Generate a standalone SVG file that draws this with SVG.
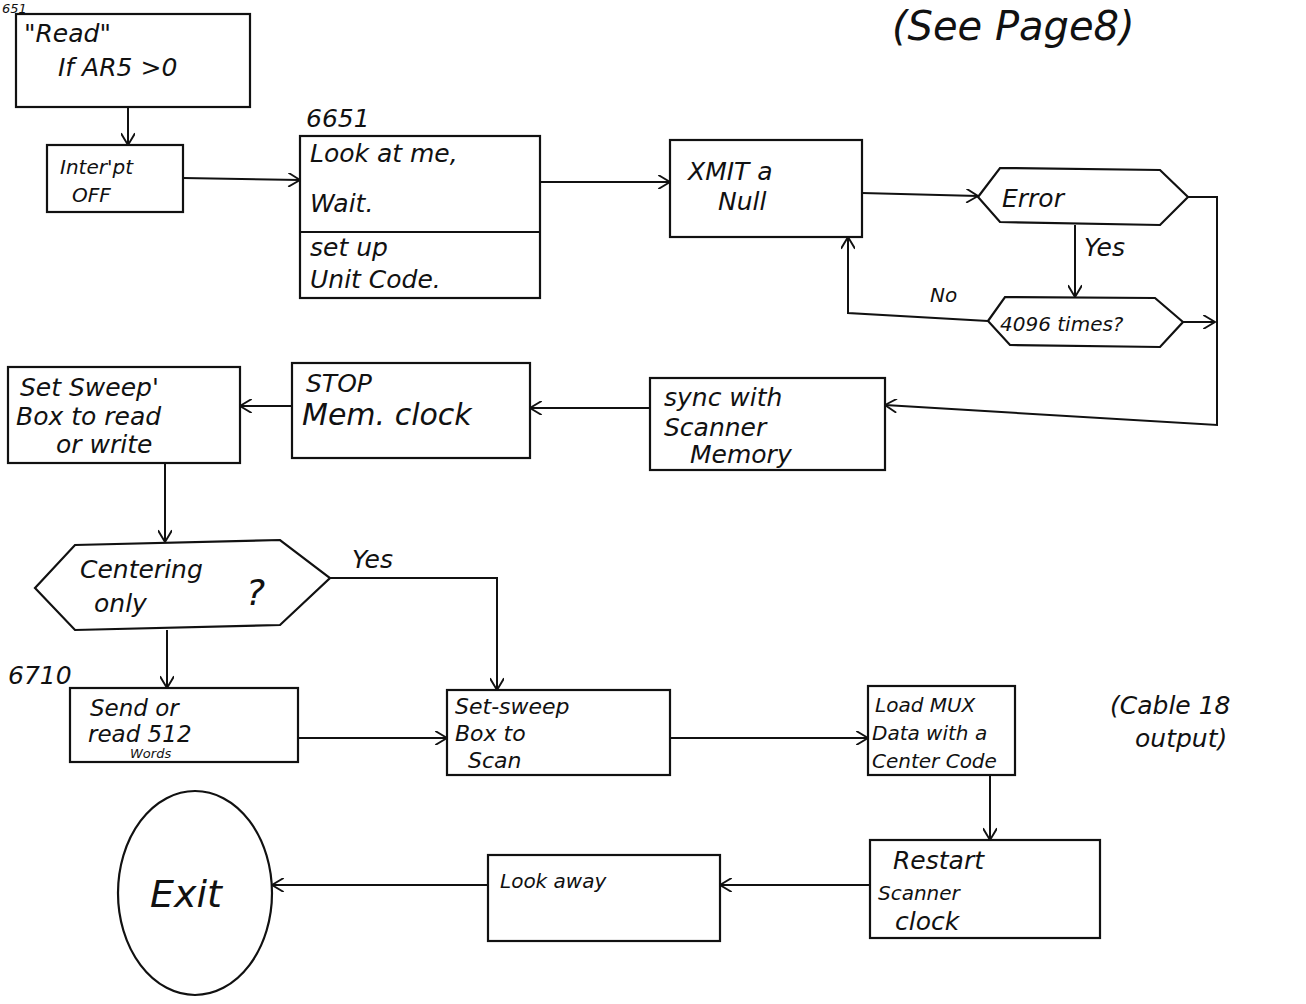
<svg xmlns="http://www.w3.org/2000/svg" width="1306" height="1004" viewBox="0 0 1306 1004">
<defs>
<marker id="arr" viewBox="0 0 12 12" refX="11" refY="6" markerWidth="14" markerHeight="14" markerUnits="userSpaceOnUse" orient="auto">
<path d="M1,0 L11,6 L1,12" fill="none" stroke="#111" stroke-width="1.6"/>
</marker>
<style>
.b{fill:none;stroke:#111;stroke-width:2.2}
.c{fill:none;stroke:#111;stroke-width:2;marker-end:url(#arr)}
text{font-family:"DejaVu Sans","Liberation Sans",sans-serif;font-style:italic;fill:#111;font-size:25px}
.s{font-size:20px}
.xs{font-size:13px}
.big{font-size:40px}
</style>
</defs>
<rect width="1306" height="1004" fill="#fff"/>
<text x="2" y="13" class="xs">651</text>
<text x="892" y="40" class="big">(See Page8)</text>
<g id="n-read"><rect class="b" x="16" y="14" width="234" height="93"/><text x="24" y="42">"Read"</text><text x="58" y="76">If AR5 &gt;0</text></g>
<g id="n-interpt"><rect class="b" x="47" y="145" width="136" height="67"/><text x="60" y="174" class="s">Inter'pt</text><text x="72" y="202" class="s">OFF</text></g>
<g id="n-look"><text x="306" y="127">6651</text><rect class="b" x="300" y="136" width="240" height="162"/><line class="b" x1="300" y1="232" x2="540" y2="232"/><text x="310" y="162">Look  at me,</text><text x="310" y="212">Wait.</text><text x="310" y="256">set up</text><text x="310" y="288">Unit Code.</text></g>
<g id="n-xmit"><rect class="b" x="670" y="140" width="192" height="97"/><text x="688" y="180">XMIT  a</text><text x="718" y="210">Null</text></g>
<g id="n-error"><polygon class="b" points="978,197 1000,168 1160,170 1188,197 1160,225 1000,222"/><text x="1002" y="207">Error</text></g>
<g id="n-4096"><polygon class="b" points="988,321 1005,297 1155,298 1183,322 1160,347 1010,345"/><text x="1000" y="331" class="s">4096 times?</text></g>
<g id="n-sync"><rect class="b" x="650" y="378" width="235" height="92"/><text x="664" y="406">sync  with</text><text x="664" y="436">Scanner</text><text x="690" y="463">Memory</text></g>
<g id="n-stop"><rect class="b" x="292" y="363" width="238" height="95"/><text x="306" y="392">STOP</text><text x="302" y="425" style="font-size:30px">Mem. clock</text></g>
<g id="n-setrw"><rect class="b" x="8" y="367" width="232" height="96"/><text x="20" y="396">Set Sweep'</text><text x="16" y="425">Box to read</text><text x="56" y="453">or write</text></g>
<g id="n-center"><polygon class="b" points="35,588 75,545 280,540 330,578 280,625 75,630"/><text x="80" y="578">Centering</text><text x="94" y="612">only</text><text x="246" y="605" style="font-size:36px">?</text></g>
<g id="n-send"><text x="8" y="684">6710</text><rect class="b" x="70" y="688" width="228" height="74"/><text x="90" y="716" style="font-size:23px">Send or</text><text x="88" y="742" style="font-size:23px">read 512</text><text x="130" y="758" class="xs">Words</text></g>
<g id="n-scan"><rect class="b" x="447" y="690" width="223" height="85"/><text x="455" y="714" style="font-size:22px">Set-sweep</text><text x="455" y="741" style="font-size:22px">Box to</text><text x="468" y="768" style="font-size:22px">Scan</text></g>
<g id="n-mux"><rect class="b" x="868" y="686" width="147" height="89"/><text x="875" y="712" class="s">Load MUX</text><text x="872" y="740" class="s">Data with a</text><text x="872" y="768" class="s">Center Code</text></g>
<text x="1110" y="714">(Cable 18</text>
<text x="1135" y="747">output)</text>
<g id="n-restart"><rect class="b" x="870" y="840" width="230" height="98"/><text x="893" y="869">Restart</text><text x="878" y="900" class="s">Scanner</text><text x="895" y="930">clock</text></g>
<g id="n-lookaway"><rect class="b" x="488" y="855" width="232" height="86"/><text x="500" y="888" class="s">Look away</text></g>
<g id="n-exit"><ellipse class="b" cx="195" cy="893" rx="77" ry="102"/><text x="150" y="907" style="font-size:38px">Exit</text></g>
<g id="connectors">
<line class="c" x1="128" y1="107" x2="128" y2="145"/>
<line class="c" x1="183" y1="178" x2="300" y2="180"/>
<line class="c" x1="540" y1="182" x2="670" y2="182"/>
<line class="c" x1="862" y1="193" x2="978" y2="196"/>
<line class="c" x1="1075" y1="225" x2="1075" y2="297"/>
<text x="1084" y="256">Yes</text>
<polyline class="c" points="988,321 848,313 848,237"/>
<text x="930" y="302" class="s">No</text>
<line class="c" x1="1183" y1="322" x2="1215" y2="322"/>
<polyline class="c" points="1188,197 1217,197 1217,425 885,405"/>
<line class="c" x1="650" y1="408" x2="530" y2="408"/>
<line class="c" x1="292" y1="406" x2="240" y2="406"/>
<line class="c" x1="165" y1="463" x2="165" y2="542"/>
<polyline class="c" points="330,578 497,578 497,690"/>
<text x="352" y="568">Yes</text>
<line class="c" x1="167" y1="630" x2="167" y2="688"/>
<line class="c" x1="298" y1="738" x2="447" y2="738"/>
<line class="c" x1="670" y1="738" x2="868" y2="738"/>
<line class="c" x1="990" y1="775" x2="990" y2="840"/>
<line class="c" x1="870" y1="885" x2="720" y2="885"/>
<line class="c" x1="488" y1="885" x2="272" y2="885"/>
</g>
</svg>
